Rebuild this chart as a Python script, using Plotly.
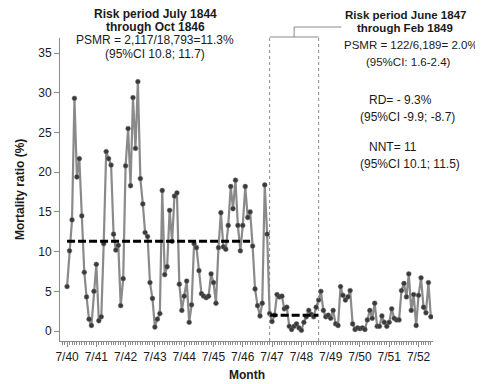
import pandas as pd
import plotly.graph_objects as go

# Monthly mortality ratio (%), July 1840 .. Dec 1852
mortality = [
    5.6, 10.1, 14.0, 29.3, 19.4, 21.7, 14.5, 7.4, 4.3, 1.5, 0.7, 5.0,
    8.4, 1.3, 1.8, 11.0, 22.6, 21.7, 20.9, 12.2, 10.2, 10.8, 3.2, 6.6,
    20.8, 25.5, 18.3, 29.4, 23.0, 31.4, 19.2, 16.0, 12.4, 11.9, 6.1, 4.1,
    0.5, 1.5, 2.2, 17.7, 7.1, 8.1, 15.2, 11.3, 17.0, 17.4, 5.9, 2.6,
    4.4, 6.3, 1.1, 3.3, 11.0, 10.5, 7.6, 4.7, 4.4, 4.2, 4.4, 7.2,
    6.1, 3.5, 10.5, 14.9, 10.6, 10.3, 13.3, 18.2, 15.4, 19.0, 13.3, 10.1,
    13.3, 18.2, 14.3, 15.0, 10.7, 5.3, 3.2, 1.9, 3.5, 18.4, 12.2, 2.2,
    1.2, 2.0, 4.6, 4.3, 4.4, 2.8, 3.0, 0.6, 0.2, 0.6, 0.9, 0.4,
    0.1, 1.1, 1.8, 2.6, 2.1, 1.8, 3.0, 3.9, 5.0, 2.6, 1.8, 2.0,
    1.6, 2.6, 0.9, 0.7, 5.6, 4.5, 3.9, 4.3, 5.1, 0.9, 0.2, 0.4,
    0.3, 0.4, 0.2, 1.4, 2.6, 1.6, 3.5, 0.6, 0.6, 1.9, 1.1, 0.6,
    1.1, 2.8, 1.6, 1.4, 1.4, 5.1, 6.0, 4.3, 7.2, 2.6, 4.6, 0.7,
    4.5, 6.7, 3.0, 2.3, 6.1, 1.8,
]
first_month = "1840-07-01"
months = pd.date_range(first_month, periods=len(mortality), freq="MS")

# Mean (PSMR) lines
mean1_x = ["1840-07-01", "1846-10-01"]
mean1_y = [11.3, 11.3]
mean2_x = ["1847-06-01", "1849-02-01"]
mean2_y = [2.0, 2.0]

# Risk period 2 box
period2 = ["1847-06-01", "1849-02-01"]
bracket_end = "1849-11-12"

y_ticks = [0, 5, 10, 15, 20, 25, 30, 35]

FONT = "Arial, Liberation Sans, sans-serif"
GRAY = "#8a8a8a"
TXT = "#1a1a1a"

fig = go.Figure()
fig.add_trace(go.Scatter(
    x=months, y=mortality, mode="lines+markers",
    line=dict(color=GRAY, width=2.2),
    marker=dict(color="#3a3a3a", size=4.8, line=dict(color="#6a6a6a", width=0.5)),
    showlegend=False, hoverinfo="skip"))
fig.add_trace(go.Scatter(
    x=mean1_x, y=mean1_y, mode="lines",
    line=dict(color="black", width=3, dash="8px,3px"),
    showlegend=False, hoverinfo="skip"))
fig.add_trace(go.Scatter(
    x=mean2_x, y=mean2_y, mode="lines",
    line=dict(color="black", width=3, dash="8px,3px"),
    showlegend=False, hoverinfo="skip"))

# page has an 8px body margin: figure coordinates = page coordinates - 8
OFF = 8
W, H = 483 - OFF, 384 - OFF
L, R, T, B = 60 - OFF, 483 - 433, 38 - OFF, 384 - 341
pw, ph = W - L - R, H - T - B

def px(x):
    return (x - OFF - L) / pw

def py(y):
    return (H - B - (y - OFF)) / ph

shapes = []
for d in period2:
    shapes.append(dict(type="line", xref="x", yref="paper", x0=d, x1=d,
                       y0=0, y1=py(37), line=dict(color=GRAY, width=1, dash="3px,3px")))
shapes.append(dict(type="line", xref="x", yref="paper", x0=period2[0], x1=period2[1],
                   y0=py(37), y1=py(37), line=dict(color=GRAY, width=1)))
mid = pd.Timestamp(period2[0]) + (pd.Timestamp(period2[1]) - pd.Timestamp(period2[0])) / 2
shapes.append(dict(type="line", xref="x", yref="paper", x0=mid, x1=mid,
                   y0=py(37), y1=py(27), line=dict(color=GRAY, width=1)))
shapes.append(dict(type="line", xref="x", yref="paper", x0=mid, x1=bracket_end,
                   y0=py(27), y1=py(27), line=dict(color=GRAY, width=1)))

ann = []
def text(x, y, s, bold=False, anchor="center", size=12, angle=0):
    ann.append(dict(x=px(x), y=py(y), xref="paper", yref="paper",
                    text=(f"<b>{s}</b>" if bold else s), textangle=angle,
                    showarrow=False, xanchor=anchor, yanchor="middle",
                    font=dict(family=FONT, size=size, color=TXT)))

text(155, 14, "Risk period July 1844", bold=True)
text(155, 27, "through Oct 1846", bold=True)
text(155, 40, "PSMR = 2,117/18,793=11.3%")
text(155, 54, "(95%CI 10.8; 11.7)")

text(405, 15, "Risk period June 1847", bold=True, size=11.5)
text(405, 28.5, "through Feb 1849", bold=True, size=11.5)
text(411, 45, "PSMR = 122/6,189= 2.0%", size=11.5)
text(408, 62, "(95%CI: 1.6-2.4)", size=11.5)

text(367, 100, "RD= - 9.3%", anchor="left")
text(358, 117, "(95%CI -9.9; -8.7)", anchor="left")
text(367, 147, "NNT= 11", anchor="left")
text(358, 164, "(95%CI 10.1; 11.5)", anchor="left")

# axis titles
text(247, 375, "Month", bold=True)
text(20, 190, "Mortality ratio (%)", bold=True, angle=-90)

fig.update_layout(
    width=W, height=H, margin=dict(l=L, r=R, t=T, b=B),
    paper_bgcolor="white", plot_bgcolor="white",
    font=dict(family=FONT, size=12, color=TXT),
    shapes=shapes, annotations=ann,
    xaxis=dict(
        type="date", range=["1840-04-04", "1852-12-28"], automargin=False,
        tick0=first_month, dtick="M12", tickformat="%-m/%y",
        ticks="outside", ticklen=5, tickcolor=GRAY, tickwidth=1,
        showline=True, linecolor=GRAY, linewidth=1, showgrid=False, zeroline=False,
        minor=dict(dtick="M1", ticks="outside", ticklen=3, tickcolor=GRAY, showgrid=False),
        tickfont=dict(family=FONT, size=12, color=TXT),
    ),
    yaxis=dict(
        range=[-1.25, 36.9], tickvals=y_ticks, automargin=False,
        ticks="outside", ticklen=5, tickcolor=GRAY, tickwidth=1,
        showline=True, linecolor=GRAY, linewidth=1, showgrid=False, zeroline=False,
        tickfont=dict(family=FONT, size=12, color=TXT),
    ),
)

fig.write_html("out.html")
